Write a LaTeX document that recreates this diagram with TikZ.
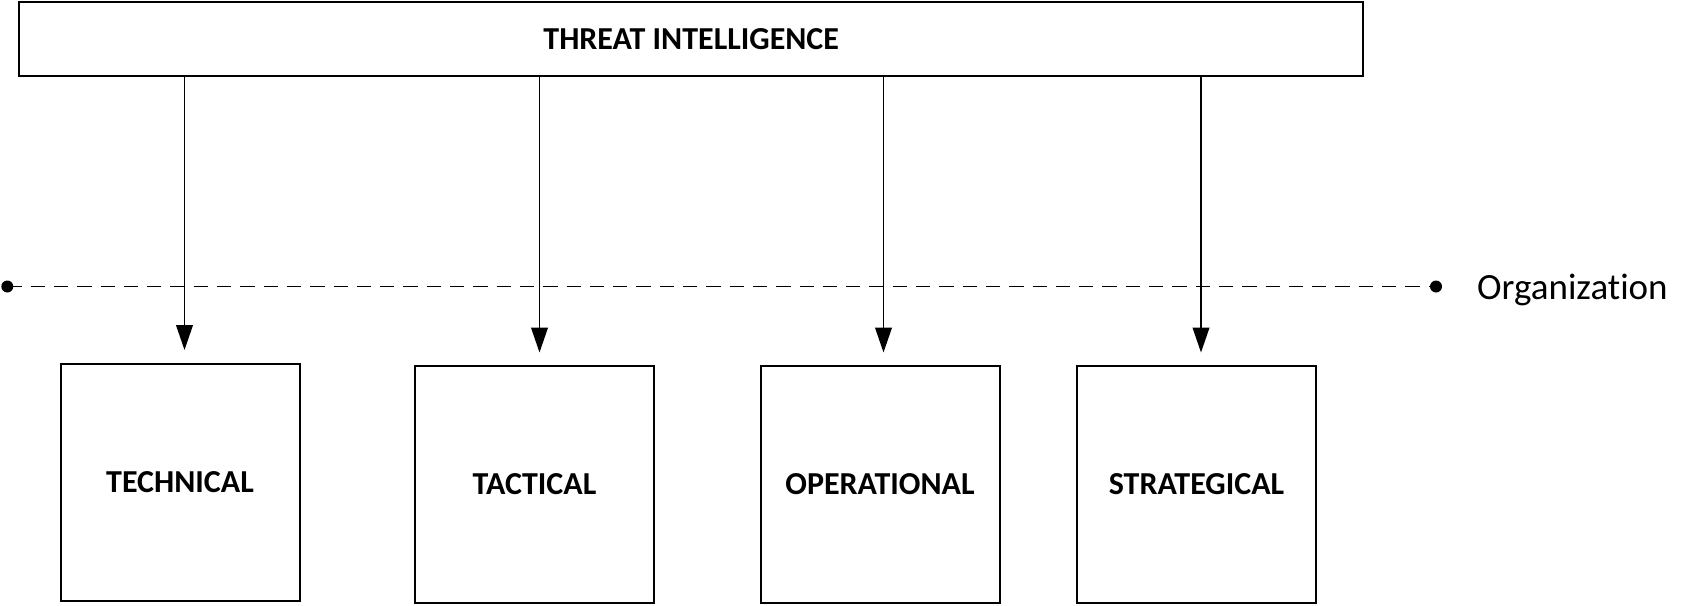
\documentclass[tikz,border=0pt]{standalone}
\usepackage{fontspec}
\setmainfont[Ligatures=NoCommon]{Carlito}
\usetikzlibrary{arrows.meta}
\begin{document}
\begin{tikzpicture}[x=1pt,y=-1pt,
  levelbox/.style={draw=black,line width=2pt,minimum width=239pt,minimum height=237.5pt,inner sep=0pt,font=\fontsize{32}{38}\selectfont\bfseries},
  topbox/.style={draw=black,line width=2pt,minimum width=1343.6pt,minimum height=73.5pt,inner sep=0pt,font=\fontsize{32}{38}\selectfont\bfseries},
  feed/.style={line width=1.8pt,-{Triangle[length=25pt,width=16.7pt]},shorten >=12.5pt},
  orgline/.style={line width=1.8pt,dash pattern=on 14.3pt off 9pt},
  enddot/.style={circle,fill=black,inner sep=0pt,minimum size=12pt}
]
\useasboundingbox (0,0) rectangle (1689,605);
\node[topbox] (ti) at (691.2,38.75) {THREAT INTELLIGENCE};
\node[levelbox] (tech) at (180,482.25) {TECHNICAL};
\node[levelbox,minimum height=237pt] (tact) at (534.5,484.5) {TACTICAL};
\node[levelbox,minimum height=237pt] (oper) at (880,484.5) {OPERATIONAL};
\node[levelbox,minimum height=237pt] (strat) at (1196.5,484.5) {STRATEGICAL};
\node[enddot] (dl) at (7.3,286.5) {};
\node[enddot] (dr) at (1436,286.5) {};
\draw[orgline] (dl.center) -- (dr.center);
\node[anchor=base west,inner sep=0pt,font=\fontsize{37}{44}\selectfont] (org) at (1477,299) {Organization};
\coordinate (x1) at (184.5,0);
\coordinate (x2) at (539.5,0);
\coordinate (x3) at (883.5,0);
\coordinate (x4) at (1201,0);
\draw[feed] (ti.south -| x1) -- (tech.north -| x1);
\draw[feed] (ti.south -| x2) -- (tact.north -| x2);
\draw[feed] (ti.south -| x3) -- (oper.north -| x3);
\draw[feed] (ti.south -| x4) -- (strat.north -| x4);
\end{tikzpicture}
\end{document}
